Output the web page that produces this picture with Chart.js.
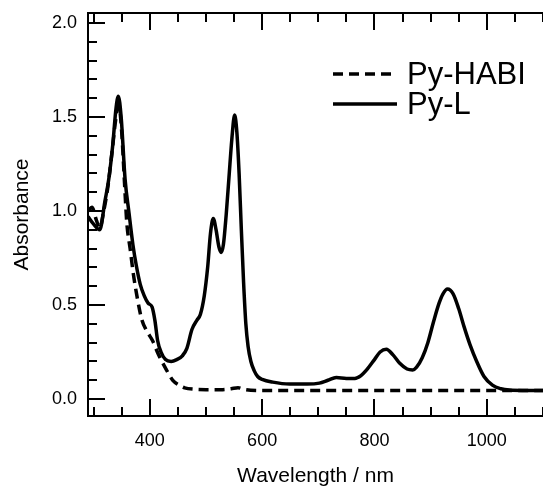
<!DOCTYPE html>
<html>
<head>
<meta charset="utf-8">
<title>Py-HABI / Py-L absorbance</title>
<script src="https://cdn.jsdelivr.net/npm/chart.js@4.4.1/dist/chart.umd.min.js"></script>
<style>
  html, body { margin: 0; padding: 0; background: #fff; }
  #wrap { width: 543px; height: 487px; }
</style>
</head>
<body>
<div id="wrap"><canvas id="spectrum"></canvas></div>
<script>
// Values (wavelength in nm, absorbance)
const habiWavelength = [290, 297, 305, 311, 318, 325, 333, 340, 345, 350, 355, 359, 365, 371, 377, 386, 395, 405, 415, 427, 441, 452, 462, 480, 500, 530, 545, 557, 570, 600, 700, 800, 900, 1000, 1100];
const habiAbsorbance = [1.00, 1.02, 0.95, 0.91, 1.00, 1.12, 1.32, 1.50, 1.56, 1.42, 1.15, 0.94, 0.80, 0.66, 0.55, 0.42, 0.36, 0.31, 0.24, 0.17, 0.10, 0.075, 0.06, 0.052, 0.05, 0.05, 0.055, 0.06, 0.05, 0.045, 0.045, 0.045, 0.046, 0.046, 0.045];

const lWavelength = [290, 300, 311, 320, 327, 334, 340, 344, 349, 356, 363, 370, 376, 383, 390, 397, 404, 409, 414, 420, 428, 438, 448, 458, 466, 475, 484, 490, 497, 503, 508, 513, 518, 523, 527, 531, 536, 541, 546, 551, 555, 559, 563, 567, 571, 575, 580, 586, 592, 600, 619, 649, 680, 702, 717, 732, 750, 765, 776, 786, 800, 810, 821, 833, 845, 858, 868, 875, 885, 895, 905, 915, 922, 930, 940, 950, 960, 970, 982, 995, 1010, 1025, 1040, 1070, 1100];
const lAbsorbance = [0.97, 0.93, 0.90, 1.05, 1.17, 1.35, 1.55, 1.61, 1.50, 1.17, 0.99, 0.82, 0.71, 0.61, 0.55, 0.51, 0.49, 0.42, 0.31, 0.25, 0.21, 0.20, 0.21, 0.23, 0.27, 0.37, 0.42, 0.45, 0.55, 0.70, 0.88, 0.96, 0.90, 0.81, 0.78, 0.82, 0.98, 1.18, 1.38, 1.51, 1.42, 1.20, 0.90, 0.62, 0.40, 0.28, 0.20, 0.15, 0.12, 0.105, 0.09, 0.08, 0.08, 0.085, 0.10, 0.115, 0.11, 0.11, 0.125, 0.155, 0.21, 0.25, 0.265, 0.235, 0.19, 0.16, 0.155, 0.17, 0.22, 0.30, 0.41, 0.51, 0.56, 0.585, 0.56, 0.48, 0.38, 0.29, 0.20, 0.12, 0.074, 0.055, 0.048, 0.046, 0.045];

const seriesLabels = ['Py-HABI', 'Py-L'];

// Ticks of the axes
const xMajorTicks = [400, 600, 800, 1000];
const xMinorTicks = [300, 350, 450, 500, 550, 650, 700, 750, 850, 900, 950, 1050, 1100];
const xTickLabels = ['400', '600', '800', '1000'];
const yMajorTicks = [0, 0.5, 1.0, 1.5, 2.0];
const yMinorTicks = [0.1, 0.2, 0.3, 0.4, 0.6, 0.7, 0.8, 0.9, 1.1, 1.2, 1.3, 1.4, 1.6, 1.7, 1.8, 1.9];
const yTickLabels = ['0.0', '0.5', '1.0', '1.5', '2.0'];

const FONT = "'Liberation Sans', Arial, sans-serif";

function isMajor(list, v) {
  return list.some(m => Math.abs(m - v) < 1e-9);
}

function labelFor(majors, labels, v) {
  const i = majors.findIndex(m => Math.abs(m - v) < 1e-9);
  return i >= 0 ? labels[i] : '';
}

// Inward ticks on bottom, left and top, plus the top frame line
const frameTicks = {
  id: 'frameTicks',
  afterDraw(chart) {
    const { ctx, chartArea: { left, right, top, bottom }, scales: { x, y } } = chart;
    ctx.save();
    ctx.strokeStyle = '#000';
    ctx.lineWidth = 2;
    ctx.beginPath();
    ctx.moveTo(left - 1, top);
    ctx.lineTo(right, top);
    ctx.stroke();
    ctx.beginPath();
    x.ticks.forEach(t => {
      const px = Math.round(x.getPixelForValue(t.value));
      const len = isMajor(xMajorTicks, t.value) ? 17 : 9;
      ctx.moveTo(px, bottom);
      ctx.lineTo(px, bottom - len);
      ctx.moveTo(px, top);
      ctx.lineTo(px, top + len);
    });
    y.ticks.forEach(t => {
      const py = Math.round(y.getPixelForValue(t.value));
      const len = isMajor(yMajorTicks, t.value) ? 17 : 9;
      ctx.moveTo(left, py);
      ctx.lineTo(left + len, py);
    });
    ctx.stroke();
    ctx.restore();
  }
};

// Legend drawn inside the plot, top right
const insideLegend = {
  id: 'insideLegend',
  afterDatasetsDraw(chart) {
    const { ctx } = chart;
    const rows = [74, 104];
    ctx.save();
    chart.data.datasets.forEach((ds, i) => {
      const yy = rows[i];
      ctx.strokeStyle = ds.borderColor;
      ctx.lineWidth = ds.borderWidth;
      ctx.setLineDash(ds.borderDash || []);
      ctx.beginPath();
      ctx.moveTo(333, yy);
      ctx.lineTo(397, yy);
      ctx.stroke();
      ctx.setLineDash([]);
      ctx.fillStyle = '#000';
      ctx.font = '31px ' + FONT;
      ctx.textBaseline = 'middle';
      ctx.textAlign = 'left';
      ctx.fillText(ds.label, 407, yy + 1);
    });
    ctx.restore();
  }
};

const toPoints = (xs, ys) => xs.map((w, i) => ({ x: w, y: ys[i] }));

const ctx = document.getElementById('spectrum').getContext('2d');
const chart = new Chart(ctx, {
  type: 'line',
  data: {
    datasets: [
      {
        label: seriesLabels[0],
        data: toPoints(habiWavelength, habiAbsorbance),
        borderColor: '#000',
        borderWidth: 3.5,
        borderDash: [10, 6],
        pointRadius: 0,
        cubicInterpolationMode: 'monotone'
      },
      {
        label: seriesLabels[1],
        data: toPoints(lWavelength, lAbsorbance),
        borderColor: '#000',
        borderWidth: 3.5,
        pointRadius: 0,
        cubicInterpolationMode: 'monotone'
      }
    ]
  },
  options: {
    responsive: true,
    maintainAspectRatio: false,
    animation: false,
    layout: { padding: { top: 13, right: 0, left: 0, bottom: 0 } },
    plugins: {
      legend: { display: false },
      tooltip: { enabled: false }
    },
    scales: {
      x: {
        type: 'linear',
        min: 290,
        max: 1100,
        afterBuildTicks: s => {
          s.ticks = [...xMajorTicks, ...xMinorTicks].sort((a, b) => a - b).map(v => ({ value: v }));
        },
        afterFit: s => {
          s.height = 71;
          s.paddingLeft = 0;
          s.paddingRight = 0;
        },
        ticks: {
          autoSkip: false,
          maxRotation: 0,
          padding: 14,
          color: '#000',
          font: { family: FONT, size: 18 },
          callback: v => labelFor(xMajorTicks, xTickLabels, v)
        },
        grid: { display: true, drawOnChartArea: false, drawTicks: false },
        border: { display: true, color: '#000', width: 2 },
        title: {
          display: true,
          text: 'Wavelength / nm',
          color: '#000',
          font: { family: FONT, size: 21, lineHeight: 1 },
          padding: { top: 0, bottom: 0 }
        }
      },
      y: {
        min: -0.09,
        max: 2.053,
        afterBuildTicks: s => {
          s.ticks = [...yMajorTicks, ...yMinorTicks].sort((a, b) => a - b).map(v => ({ value: v }));
        },
        afterFit: s => {
          s.width = 88;
          s.paddingTop = 0;
          s.paddingBottom = 0;
        },
        ticks: {
          autoSkip: false,
          padding: 11,
          color: '#000',
          font: { family: FONT, size: 18 },
          callback: v => labelFor(yMajorTicks, yTickLabels, v)
        },
        grid: { display: true, drawOnChartArea: false, drawTicks: false },
        border: { display: true, color: '#000', width: 2 },
        title: {
          display: true,
          text: 'Absorbance',
          color: '#000',
          font: { family: FONT, size: 21, lineHeight: 1 },
          padding: { top: 12, bottom: 0 }
        }
      }
    }
  },
  plugins: [frameTicks, insideLegend]
});
</script>
</body>
</html>
